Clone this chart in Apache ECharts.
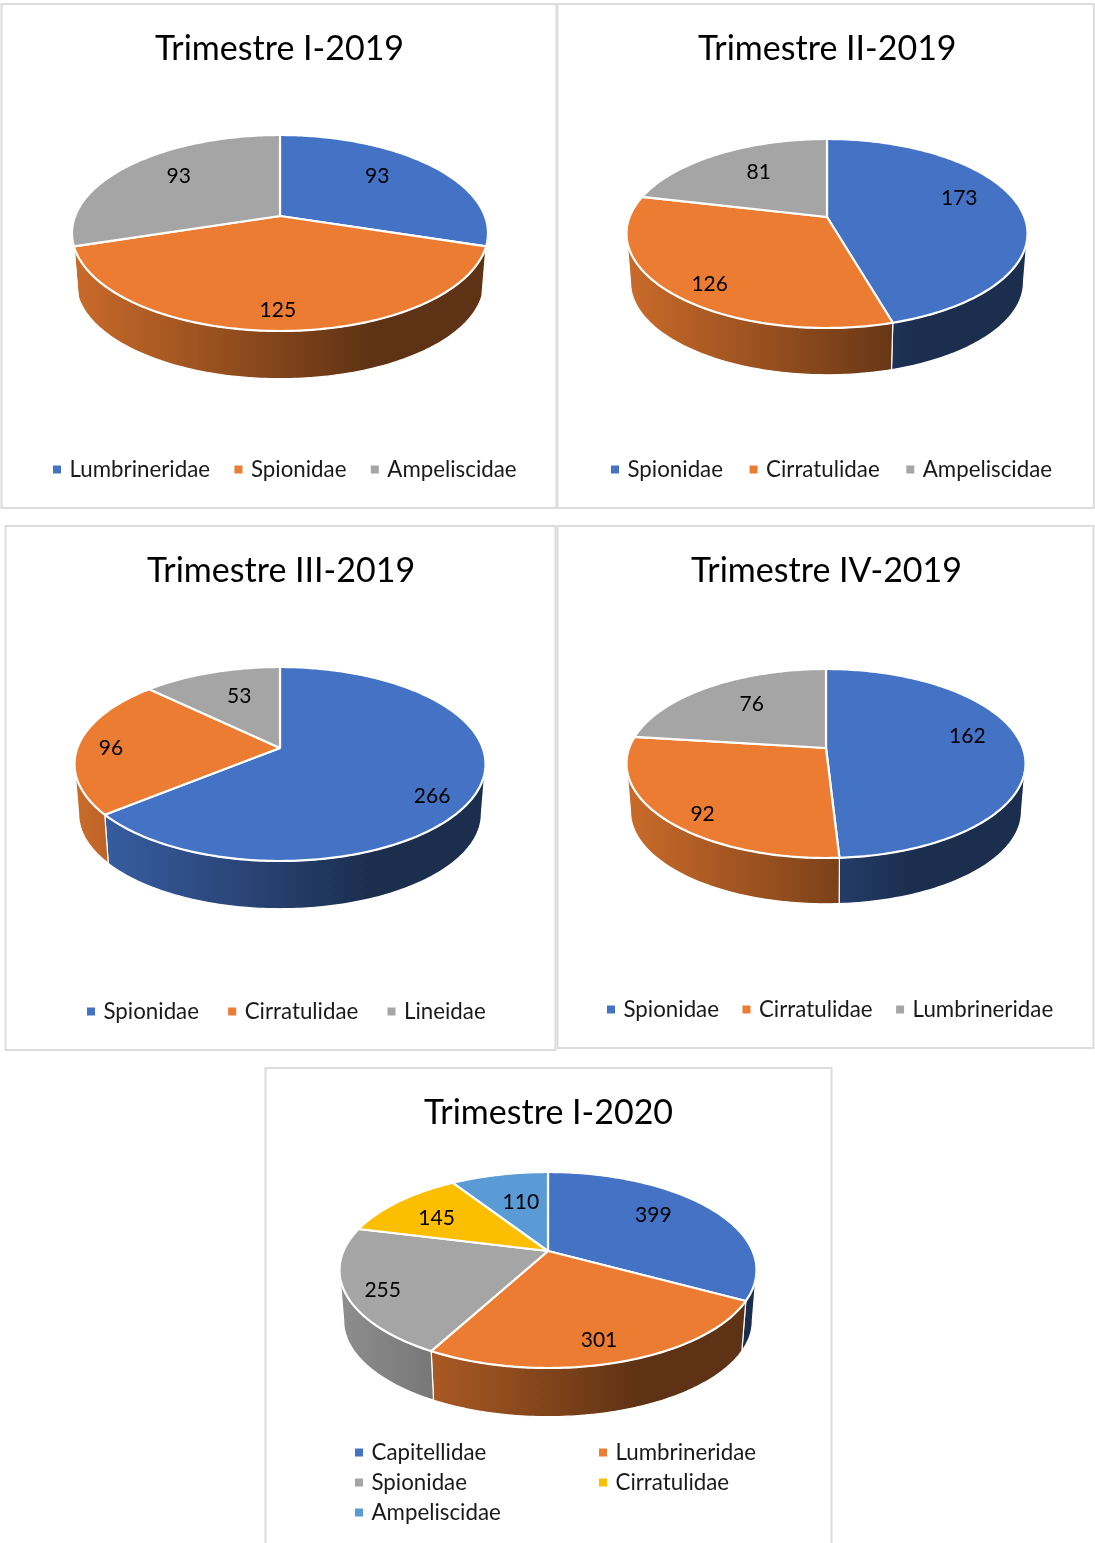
<!DOCTYPE html>
<html><head><meta charset="utf-8">
<style>html,body{margin:0;padding:0;background:#fff}#c{width:1095px;height:1543px}</style>
<script src="https://cdn.jsdelivr.net/npm/echarts@6/dist/echarts.min.js"></script>
</head><body><div id="c"></div>
<script>
// ---- data ----
const titles = ['Trimestre I-2019','Trimestre II-2019','Trimestre III-2019','Trimestre IV-2019','Trimestre I-2020'];
const cats1 = ['Lumbrineridae','Spionidae','Ampeliscidae'];
const vals1 = [93,125,93];
const cats2 = ['Spionidae','Cirratulidae','Ampeliscidae'];
const vals2 = [173,126,81];
const cats3 = ['Spionidae','Cirratulidae','Lineidae'];
const vals3 = [266,96,53];
const cats4 = ['Spionidae','Cirratulidae','Lumbrineridae'];
const vals4 = [162,92,76];
const cats5 = ['Capitellidae','Lumbrineridae','Spionidae','Cirratulidae','Ampeliscidae'];
const vals5 = [399,301,255,145,110];
const palette = [[68,114,196],[235,124,49],[165,165,165],[252,190,0],[91,155,213]];

// ---- layout: pie geometry, panel, label placement ----
const layouts = [
 {cats:cats1,vals:vals1,panel:[1.5,4,555,504],titleX:155,titleY:32,cx:280,cy:216,up:81,down:115,rx:208,depth:50,
  lr:[.684,.845,.70],ls:[-5.4,0.6,4.2],legend:[{x:53,y:469,gap:24.4,items:[0,1,2]}]},
 {cats:cats2,vals:vals2,panel:[557.5,4,536.5,504],titleX:698,titleY:32,cx:827,cy:217,up:78,down:111,rx:200.5,depth:49,
  lr:[.728,.836,.657],ls:[-9.2,-4.5,3.2],legend:[{x:611,y:469,gap:26.6,items:[0,1,2]}]},
 {cats:cats3,vals:vals3,panel:[5.5,526,550,524],titleX:147,titleY:554,cx:280,cy:748,up:81,down:113,rx:205.5,depth:50,
  lr:[.836,.834,.645],ls:[8.7,-2.4,2.9],legend:[{x:87,y:1011,gap:29.2,items:[0,1,2]}]},
 {cats:cats4,vals:vals4,panel:[557.5,526,536,522],titleX:691,titleY:554,cx:826,cy:748,up:79,down:110,rx:199.5,depth:48,
  lr:[.746,.852,.661],ls:[-8.7,-5.7,3.2],legend:[{x:607,y:1009,gap:23.5,items:[0,1,2]}]},
 {cats:cats5,vals:vals5,panel:[265.5,1068,566,480],titleX:424,titleY:1096,cx:548,cy:1251,up:79,down:117,rx:208.5,depth:51,
  lr:[.692,.825,.841,.694,.596],ls:[-5.9,1.7,-3.4,-3,2],
  legend:[{x:355,y:1452,gap:30,items:[0,2,4],vertical:true},{x:599,y:1452,gap:30,items:[1,3],vertical:true}]}
];
const FONT = 'Lato';
const rgb = (c,k)=>`rgb(${c.map(v=>Math.round(v*k)).join(',')})`;

function projector(L){
  const b=(L.down-L.up)/(L.down+L.up), a=L.up*(1+b), c=L.rx*Math.sqrt(1-b*b);
  return {b,pt(deg,t,scale,drop){
    const th=deg*Math.PI/180, u=t*Math.sin(th), v=t*Math.cos(th), w=1+b*v;
    return [L.cx+scale*c*u/w, L.cy-scale*a*v/w+drop];
  }};
}
function arc(P,from,to,scale,drop){
  const out=[], n=Math.max(2,Math.ceil(Math.abs(to-from)));
  for(let i=0;i<=n;i++) out.push(P.pt(from+(to-from)*i/n,1,scale,drop));
  return out;
}
function sliceRenderer(L,idx){
  return function(params,api){
    const P=projector(L), total=L.vals.reduce((s,v)=>s+v,0);
    let before=0; for(let i=0;i<idx;i++) before+=L.vals[i];
    const value=api.value(0);
    const start=before/total*360, end=(before+value)/total*360;
    const col=palette[idx], children=[];
    const silR=Math.acos(-P.b)*180/Math.PI, silL=360-silR;
    const s0=Math.max(start,silR), e0=Math.min(end,silL);
    if(e0>s0){
      const topRim=arc(P,s0,e0,1,0), botRim=arc(P,e0,s0,.98,L.depth);
      children.push({type:'polygon',z2:1,shape:{points:topRim.concat(botRim)},
        style:{fill:{type:'linear',x:L.cx-L.rx,y:0,x2:L.cx+L.rx,y2:0,global:true,colorStops:[
          {offset:0,color:rgb(col,.86)},{offset:.42,color:rgb(col,.6)},{offset:.72,color:rgb(col,.4)},{offset:1,color:rgb(col,.4)}]},
          stroke:'#fff',lineWidth:1.2,lineJoin:'round'}});
    }
    const top=[[L.cx,L.cy]].concat(arc(P,start,end,1,0));
    children.push({type:'polygon',z2:5,shape:{points:top},
      style:{fill:rgb(col,1),stroke:'#fff',lineWidth:2.2,lineJoin:'round'}});
    const lp=P.pt((start+end)/2+L.ls[idx],L.lr[idx],1,0);
    children.push({type:'text',z2:10,x:lp[0],y:lp[1],
      style:{text:String(value),fill:'#000',font:`21px ${FONT}`,align:'center',verticalAlign:'middle'}});
    return {type:'group',children};
  };
}

const series=[],title=[],legend=[],graphic=[];
layouts.forEach((L,ci)=>{
  graphic.push({type:'rect',z:0,silent:true,shape:{x:L.panel[0],y:L.panel[1],width:L.panel[2],height:L.panel[3]},
    style:{fill:'#fff',stroke:'#dcdcdc',lineWidth:2}});
  title.push({text:titles[ci],left:L.titleX,top:L.titleY,padding:0,
    textStyle:{fontFamily:FONT,fontSize:34,fontWeight:'normal',color:'#000'}});
  L.cats.forEach((name,i)=>{
    series.push({type:'custom',name,coordinateSystem:'none',silent:true,animation:false,
      itemStyle:{color:rgb(palette[i],1)},data:[[L.vals[i]]],renderItem:sliceRenderer(L,i)});
  });
  L.legend.forEach(g=>{
    legend.push({show:true,left:g.x,top:g.y-11.5,padding:0,orient:g.vertical?'vertical':'horizontal',
      itemWidth:8,itemHeight:8,itemGap:g.vertical?g.gap-24:g.gap,selectedMode:false,icon:'rect',
      textStyle:{fontFamily:FONT,fontSize:22.3,color:'#1a1a1a',lineHeight:24,padding:[0,0,0,3.5]},
      data:g.items.map(i=>({name:L.cats[i],icon:'rect',itemStyle:{color:rgb(palette[i],1)}}))});
  });
});

const chart=echarts.init(document.getElementById('c'),null,{renderer:'canvas'});
chart.setOption({backgroundColor:'#fff',animation:false,title,legend,series,graphic});
</script></body></html>
